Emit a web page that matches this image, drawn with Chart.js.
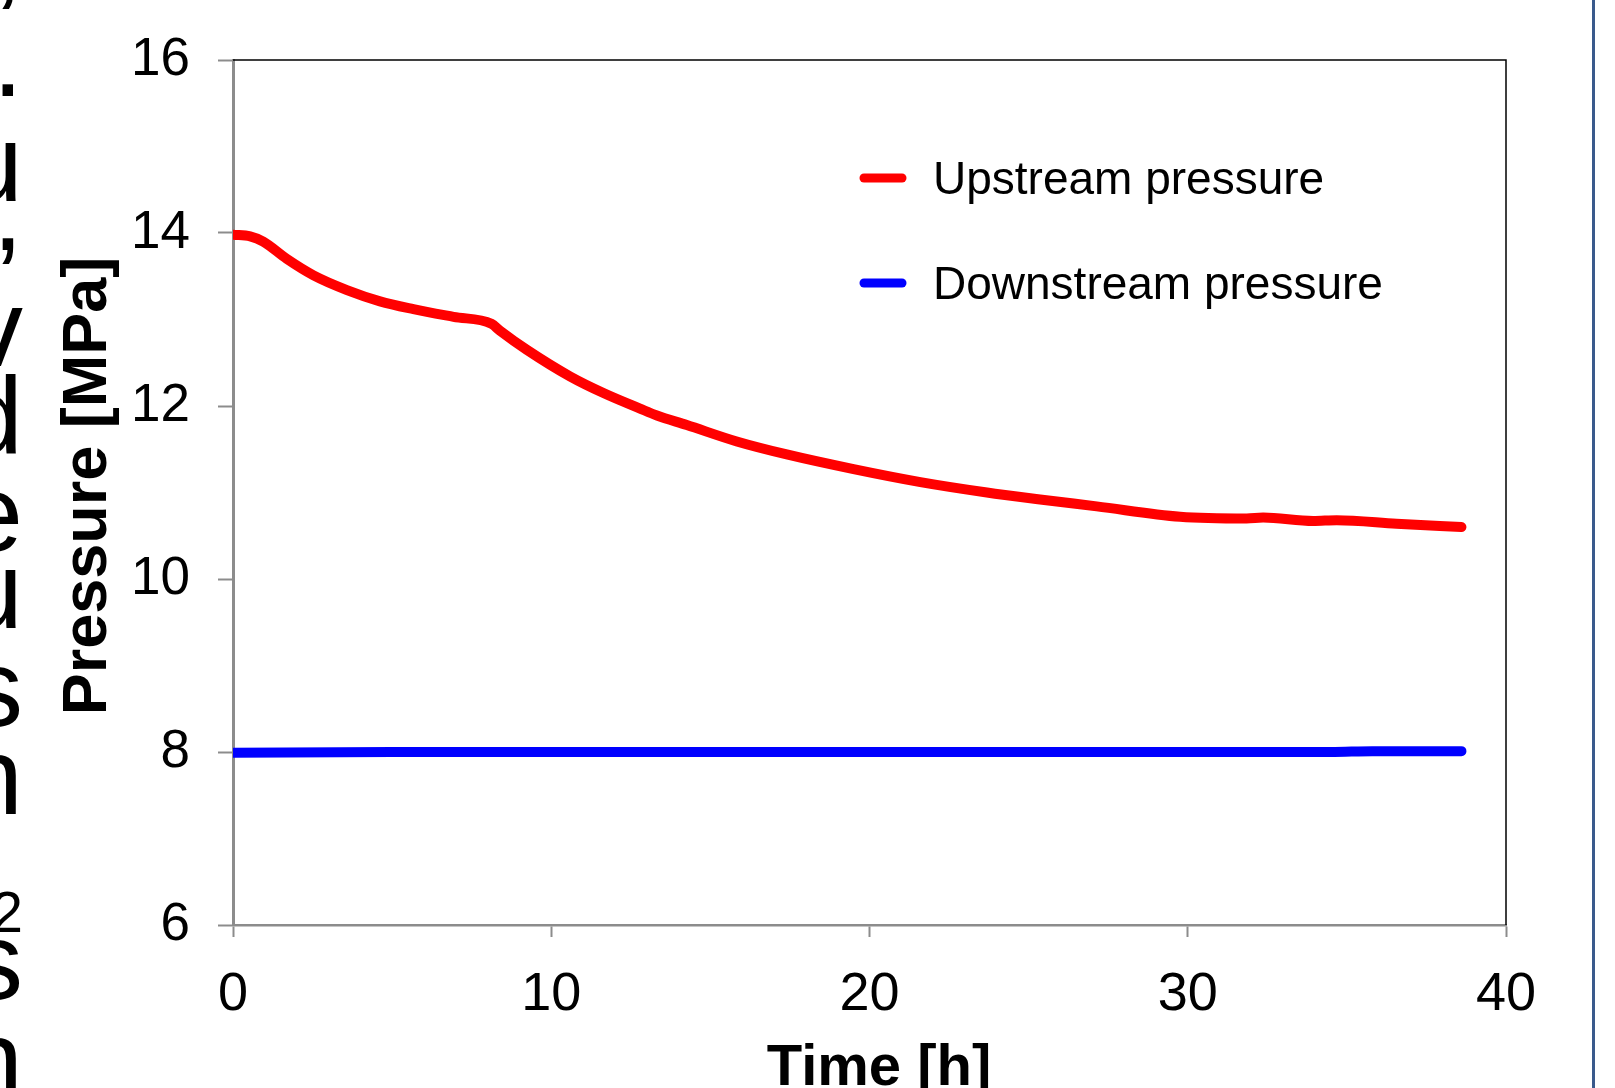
<!DOCTYPE html>
<html>
<head>
<meta charset="utf-8">
<script src="https://cdn.jsdelivr.net/npm/chart.js@4/dist/chart.umd.min.js"></script>
<style>
  html, body { margin: 0; padding: 0; background: #fff; width: 1615px; height: 1088px; overflow: hidden; }
  #chart { position: absolute; left: 0; top: 0; }
  .edge { position: absolute; left: -200px; width: 223px; text-align: right; font-family: 'Liberation Sans', Arial, sans-serif; font-size: 110px; line-height: 110px; color: #000; }
  .edge.small { font-size: 57px; line-height: 57px; }
  #rule { position: absolute; left: 1592px; top: 0; width: 3px; height: 1088px; background: #3a5a8c; }
</style>
</head>
<body>
<!-- ends of the page text that sits left of the figure -->
<div class="edge" style="top:-98px">,</div>
<div class="edge" style="top:3px">.</div>
<div class="edge" style="top:108px">u</div>
<div class="edge" style="top:157px">,</div>
<div class="edge" style="top:273px">v</div>
<div class="edge" style="top:360px">d</div>
<div class="edge" style="top:458px">e</div>
<div class="edge" style="top:535px">u</div>
<div class="edge" style="top:633px">s</div>
<div class="edge" style="top:721px">n</div>
<div class="edge small" style="top:884px">2</div>
<div class="edge" style="top:906px">s</div>
<div class="edge" style="top:1004px">n</div>
<div id="rule"></div>
<canvas id="chart" width="1615" height="1102"></canvas>
<script>
// time [h] / pressure [MPa]
const upTime = [0, 0.54, 0.95, 1.69, 2.53, 3.58, 4.62, 5.67, 6.93, 8.12, 8.39, 9.23, 10.6, 11.64, 12.79, 13.32, 14.26, 15.83, 17.4, 19.5, 21.6, 23.69, 25.36, 27.14, 29.76, 31.85, 32.37, 33.94, 34.68, 36.56, 38.6];
const upPressure = [13.98, 13.96, 13.9, 13.7, 13.51, 13.34, 13.21, 13.12, 13.03, 12.95, 12.87, 12.65, 12.34, 12.15, 11.97, 11.89, 11.78, 11.59, 11.44, 11.27, 11.12, 11.0, 10.92, 10.84, 10.72, 10.7, 10.71, 10.67, 10.68, 10.64, 10.6];
const downTime = [0, 5, 10, 15, 20, 25, 30, 34.5, 35.8, 38.6];
const downPressure = [7.99, 8.0, 8.0, 8.0, 8.0, 8.0, 8.0, 8.0, 8.01, 8.01];
const xTicks = [0, 10, 20, 30, 40];
const yTicks = [6, 8, 10, 12, 14, 16];
const seriesNames = ['Upstream pressure', 'Downstream pressure'];
const seriesColors = ['#ff0000', '#0000ff'];

const toPoints = (xs, ys) => xs.map((x, i) => ({ x: x, y: ys[i] }));
const FONT = "'Liberation Sans', Arial, sans-serif";

// frame on top/right, legend inside the plot, axis titles
const extras = {
  id: 'extras',
  afterDraw(chart) {
    const { ctx, chartArea: a } = chart;
    ctx.save();
    ctx.strokeStyle = '#000';
    ctx.lineWidth = 1.5;
    ctx.beginPath();
    ctx.moveTo(a.left, a.top);
    ctx.lineTo(a.right, a.top);
    ctx.lineTo(a.right, a.bottom);
    ctx.stroke();

    ctx.font = '46px ' + FONT;
    ctx.textBaseline = 'alphabetic';
    ctx.textAlign = 'left';
    chart.data.datasets.forEach((ds, i) => {
      const y = 178 + i * 105;
      ctx.strokeStyle = ds.borderColor;
      ctx.lineWidth = 9;
      ctx.lineCap = 'round';
      ctx.beginPath();
      ctx.moveTo(864, y);
      ctx.lineTo(902, y);
      ctx.stroke();
      ctx.fillStyle = '#000';
      ctx.fillText(ds.label, 933, y + 16);
    });

    ctx.fillStyle = '#000';
    ctx.font = 'bold 58px ' + FONT;
    ctx.textAlign = 'center';
    ctx.fillText('Time [h]', 879, 1085);

    ctx.translate(106, 486);
    ctx.rotate(-Math.PI / 2);
    ctx.font = 'bold 63px ' + FONT;
    ctx.fillText('Pressure [MPa]', 0, 0);
    ctx.restore();
  }
};

new Chart(document.getElementById('chart'), {
  type: 'line',
  data: {
    datasets: [
      { label: seriesNames[0], data: toPoints(upTime, upPressure), borderColor: seriesColors[0] },
      { label: seriesNames[1], data: toPoints(downTime, downPressure), borderColor: seriesColors[1] }
    ]
  },
  options: {
    responsive: false,
    animation: false,
    devicePixelRatio: 1,
    layout: { padding: { top: 60, right: 109, left: 0, bottom: 0 } },
    elements: {
      point: { radius: 0 },
      line: { borderWidth: 10, borderCapStyle: 'round', borderJoinStyle: 'round', cubicInterpolationMode: 'monotone', fill: false }
    },
    plugins: { legend: { display: false }, tooltip: { enabled: false } },
    scales: {
      x: {
        type: 'linear', min: 0, max: 40,
        afterFit: s => { s.height = 177; },
        afterBuildTicks: s => { s.ticks = xTicks.map(v => ({ value: v })); },
        border: { display: true, color: '#8c8c8c', width: 2.5 },
        grid: { drawOnChartArea: false, drawTicks: true, tickLength: 12, tickColor: '#8c8c8c', tickWidth: 2 },
        ticks: { color: '#000', font: { family: FONT, size: 54 }, padding: 26, maxRotation: 0 }
      },
      y: {
        min: 6, max: 16,
        afterFit: s => { s.width = 233; },
        afterBuildTicks: s => { s.ticks = yTicks.map(v => ({ value: v })); },
        border: { display: true, color: '#8c8c8c', width: 3 },
        grid: { drawOnChartArea: false, drawTicks: true, tickLength: 15, tickColor: '#8c8c8c', tickWidth: 2 },
        ticks: { color: '#000', font: { family: FONT, size: 53 }, padding: 28 }
      }
    }
  },
  plugins: [extras]
});
</script>
</body>
</html>
